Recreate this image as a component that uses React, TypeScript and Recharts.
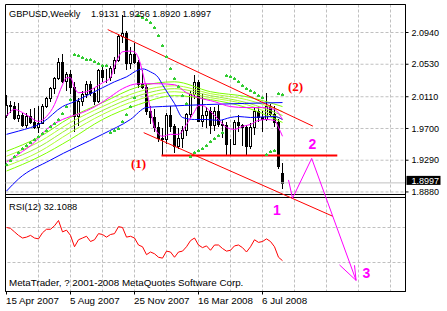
import React from 'react'
import {
  ComposedChart,
  Bar,
  Line,
  XAxis,
  YAxis,
  CartesianGrid,
  ReferenceLine,
  ReferenceArea,
  ReferenceDot,
} from 'recharts'

const FONT = "'Liberation Sans', Arial, sans-serif"

// weekly bars, bar 0 = week of 15 Apr 2007
const openP = [
  1.987, 2.0005, 1.9985, 1.983, 1.988, 1.974, 1.986, 1.979, 1.972, 1.977,
  1.999, 2.009, 2.022, 2.035, 2.056, 2.031, 2.041, 2.024, 1.986, 2.006,
  2.015, 2.028, 2.016, 2.005, 2.045, 2.036, 2.037, 2.048, 2.058, 2.089,
  2.093, 2.054, 2.066, 2.056, 2.027, 2.024, 1.992, 1.985, 1.972, 1.958,
  1.957, 1.987, 1.973, 1.947, 1.958, 1.968, 1.989, 2.014, 2.03, 1.98,
  1.988, 1.993, 1.975, 1.9925, 1.976, 1.9745, 1.9505, 1.95, 1.978, 1.974,
  1.972, 1.947, 1.972, 1.992, 1.985, 1.9825, 1.999, 1.9885, 1.979, 1.9131,
]
const highP = [
  2.0133, 2.006, 2.004, 2.003, 1.99, 1.99, 1.995, 1.997, 1.999, 2.001,
  2.011, 2.024, 2.037, 2.0607, 2.0658, 2.0435, 2.046, 2.03, 2.009, 2.019,
  2.031, 2.031, 2.022, 2.047, 2.05, 2.047, 2.051, 2.062, 2.092, 2.1161,
  2.096, 2.075, 2.081, 2.059, 2.046, 2.028, 1.999, 1.995, 1.978, 1.97,
  1.99, 1.999, 1.976, 1.97, 1.973, 1.99, 2.018, 2.0397, 2.032, 2.014,
  1.998, 1.998, 1.998, 2.0, 1.981, 1.978, 1.957, 1.981, 1.987, 1.976,
  1.975, 1.977, 1.996, 1.999, 1.992, 2.0157, 2.002, 1.999, 1.982, 1.9256,
]
const lowP = [
  1.984, 1.99, 1.981, 1.978, 1.972, 1.971, 1.976, 1.969, 1.9646, 1.976,
  1.996, 2.004, 2.015, 2.033, 2.0287, 2.018, 2.015, 1.9655, 1.973, 1.999,
  2.01, 2.012, 2.0, 2.003, 2.03, 2.029, 2.031, 2.04, 2.056, 2.08,
  2.046, 2.047, 2.053, 2.022, 2.021, 1.988, 1.976, 1.966, 1.953, 1.934,
  1.95, 1.965, 1.938, 1.944, 1.945, 1.96, 1.983, 2.008, 1.978, 1.972,
  1.971, 1.963, 1.967, 1.972, 1.958, 1.936, 1.934, 1.949, 1.966, 1.948,
  1.9355, 1.944, 1.962, 1.978, 1.966, 1.98, 1.986, 1.972, 1.917, 1.892,
]
const closeP = [
  2.0005, 1.9985, 1.983, 1.988, 1.974, 1.986, 1.979, 1.972, 1.977, 1.999,
  2.009, 2.022, 2.035, 2.056, 2.031, 2.041, 2.024, 1.986, 2.006, 2.015,
  2.028, 2.016, 2.005, 2.045, 2.036, 2.037, 2.048, 2.058, 2.089, 2.093,
  2.054, 2.066, 2.056, 2.027, 2.024, 1.992, 1.985, 1.972, 1.958, 1.957,
  1.987, 1.973, 1.947, 1.958, 1.968, 1.989, 2.014, 2.03, 1.98, 1.988,
  1.993, 1.975, 1.9925, 1.976, 1.9745, 1.9505, 1.95, 1.978, 1.974, 1.972,
  1.947, 1.972, 1.992, 1.985, 1.9825, 1.999, 1.9885, 1.979, 1.921, 1.8997,
]

// Parabolic SAR, one dot per bar
const sarP = [
  1.9241, 1.9292, 1.9343, 1.9395, 1.9446, 1.9484, 1.9523, 1.9561, 1.9599, 1.9638,
  1.9676, 1.9727, 1.9766, 1.9817, 1.9894, 1.9996, 2.0086, 2.0658, 2.0645, 2.0627,
  2.0602, 2.0594, 2.0568, 2.0551, 2.0525, 2.0517, 1.9655, 1.9675, 1.971, 1.9795,
  1.9889, 1.9989, 2.0102, 2.1161, 2.1136, 2.111, 2.1072, 2.1008, 2.0905, 2.0777,
  2.0636, 2.0483, 2.0355, 2.0252, 2.0137, 2.0034, 1.934, 1.9394, 1.942, 1.9445,
  1.9483, 1.9535, 1.9573, 1.9612, 1.965, 2.0397, 2.0384, 2.0346, 2.0311, 2.0265,
  2.0223, 2.0201, 2.0166, 2.0137, 2.0107, 1.9375, 1.9407, 1.942, 2.0157, 2.015,
]

// RSI(12)
const rsi12 = [
  70, 69, 65, 61, 58, 59, 61, 58, 57, 64, 68, 68, 72, 78, 65, 67, 61, 48, 56, 58,
  60, 54, 56, 63, 62, 59, 62, 63, 71, 70, 59, 60, 58, 50, 48, 39, 42, 40, 36, 35,
  43, 42, 36, 42, 43, 48, 55, 58, 50, 47, 49, 44, 50, 50, 46, 43, 44, 49, 50, 47,
  42, 48, 56, 53, 54, 57, 54, 48, 36, 32.1088,
]

// moving averages at sample bars
const blueSlowBars = [0, 3, 11, 24, 31, 35, 39, 50, 69]
const blueSlow = [1.8891, 1.9048, 1.9292, 1.9625, 1.9817, 1.9971, 1.9984, 2.0009, 2.0035]

const blueMidBars = [0, 3, 9, 14, 17, 20, 24, 27, 30, 33, 34, 36, 38, 39, 42, 44, 47, 50, 53, 56, 58, 61, 67, 69]
const blueMid = [
  1.9624, 1.9666, 1.9778, 1.9983, 2.0047, 2.0124, 2.0226, 2.0303, 2.0367, 2.0457, 2.047, 2.0431,
  2.0355, 2.0265, 2.0022, 1.9842, 1.9816, 1.9816, 1.9804, 1.9842, 1.9855, 1.9842, 1.9855, 1.9816,
]

const pinkFastBars = [
  0, 2, 4, 6, 8, 10, 12, 13, 14, 15, 16, 17, 18, 20, 22, 24, 26, 27, 28, 29, 31, 32, 33,
  34, 35, 36, 37, 39, 41, 43, 45, 47, 48, 49, 51, 53, 55, 57, 59, 61, 63, 65, 67, 68, 69,
]
const pinkFast = [
  1.9859, 1.9945, 1.9906, 1.9842, 1.9791, 1.9855, 2.0009, 2.0137, 2.0265, 2.0355, 2.0355, 2.0226,
  2.0162, 2.0175, 2.0226, 2.029, 2.0355, 2.0508, 2.0624, 2.0691, 2.07, 2.0688, 2.0611, 2.0431,
  2.0201, 1.9945, 1.9714, 1.9599, 1.9624, 1.9624, 1.9752, 1.9919, 1.9996, 1.9996, 1.9919, 1.9816,
  1.9714, 1.9688, 1.9727, 1.9752, 1.9804, 1.9816, 1.9804, 1.9714, 1.9599,
]

const pinkSlowBars = [0, 3, 7, 10, 14, 16, 19, 23, 26, 29, 33, 38, 42, 45, 48, 52, 56, 60, 64, 67, 69]
const pinkSlow = [
  1.9266, 1.9368, 1.9522, 1.9688, 1.9816, 1.9855, 1.9906, 2.0009, 2.0111, 2.0214, 2.0278,
  2.0278, 2.0265, 2.0162, 2.0098, 2.0047, 1.9983, 1.997, 1.997, 1.9945, 1.9816,
]

const ribbonBars = [0, 8, 16, 24, 33, 42, 51, 60, 69]
const ribbon1 = [1.9406, 1.9585, 1.9842, 2.0034, 2.0239, 2.0303, 2.0175, 2.0111, 1.9983]
const ribbon2 = [1.9342, 1.9522, 1.9778, 1.9983, 2.0175, 2.0252, 2.015, 2.0073, 1.9919]
const ribbon3 = [1.9278, 1.9458, 1.9714, 1.9932, 2.0124, 2.0214, 2.0124, 2.0034, 1.9868]
const ribbon4 = [1.9214, 1.9394, 1.965, 1.9881, 2.0073, 2.0175, 2.0098, 2.0009, 1.9816]
const ribbon5 = [1.915, 1.933, 1.956, 1.9816, 2.0009, 2.0124, 2.0073, 1.997, 1.9778]

// axes
const priceTicks = [1.888, 1.929, 1.97, 2.011, 2.053, 2.094]
const rsiTicks = [0, 30, 70, 100]
const rsiLevels = [30, 70]
const gridBars = [8, 16, 24, 32, 40, 48, 56, 64, 72, 80, 88, 96]
const dateBars = [0, 16, 32, 48, 64]
const dateLabels = ['15 Apr 2007', '5 Aug 2007', '25 Nov 2007', '16 Mar 2008', '6 Jul 2008']

// hand drawn analysis
const upperChannel = [{ x: 25.3, y: 2.0978 }, { x: 76.6, y: 1.973 }]
const lowerChannel = [{ x: 34.3, y: 1.9646 }, { x: 81.6, y: 1.8565 }]
const neckline = [{ x: 38.75, y: 1.935 }, { x: 82.7, y: 1.935 }]
const zigBars = [70.5, 71.5, 76.3, 87.4]
const zigPrices = [1.9035, 1.8798, 1.9313, 1.7737]
const barbBars = [83.25, 87]
const barbPrices = [1.7937, 1.7933]
const redMarks = [
  { x: 33, y: 1.9254, text: '(1)' },
  { x: 72.25, y: 2.024, text: '(2)' },
]
const pinkMarks = [
  { x: 67.6, y: 1.864, text: '1' },
  { x: 76.5, y: 1.9504, text: '2' },
  { x: 90, y: 1.7827, text: '3' },
]

const priceDomain = [1.75937, 2.13018]
const rsiDomain = [-3.14, 324.86]
const mainBottom = 1.8847
const rsiTop = 104.29
const gapTop = 107.71

const candles = openP.map((o, i) => ({ i, o, h: highP[i], l: lowP[i], c: closeP[i], range: [lowP[i], highP[i]] }))
const series = (xs: number[], vs: number[]) => xs.map((i, k) => ({ i, v: vs[k] }))
const bars = openP.map((_, i) => i)
const last = candles[candles.length - 1]

function Candle(props: any) {
  const { x, y, width, height, payload } = props
  const { o, h, l, c } = payload
  const k = height / (h - l || 1e-9)
  const cx = Math.floor(x + width / 2)
  const yo = y + (h - o) * k
  const yc = y + (h - c) * k
  const top = Math.round(Math.min(yo, yc))
  const bot = Math.round(Math.max(yo, yc))
  return (
    <g>
      <line x1={cx + 0.5} x2={cx + 0.5} y1={Math.round(y)} y2={Math.round(y + height)} stroke="#000" />
      <rect x={cx - 0.5} y={top + 0.5} width={2} height={Math.max(bot - top, 0)} fill={c >= o ? '#fff' : '#000'} stroke="#000" />
    </g>
  )
}

function SarDot(props: any) {
  const { cx, cy } = props
  if (cx == null || cy == null) return null
  const x = Math.floor(cx)
  const y = Math.round(cy)
  return <path d={`M${x - 1},${y + 2}h3v-2h-1v-1h-1v1h-1z`} fill="#33cc33" />
}

function PriceTag(props: any) {
  const vb = props.viewBox || {}
  const x = vb.x + vb.width
  const y = vb.y
  return (
    <g>
      <rect x={x + 1} y={y - 7} width={34} height={9} fill="#000" />
      <text x={x + 6} y={y + 1} fill="#fff" fontSize={9} fontFamily={FONT}>
        {last.c.toFixed(4)}
      </text>
    </g>
  )
}

function DateTick(props: any) {
  const { x, y, payload } = props
  const k = dateBars.indexOf(payload.value)
  return (
    <text x={x - 0.5} y={y + 7} fontSize={9.8} fontFamily={FONT} fill="#000">
      {dateLabels[k]}
    </text>
  )
}

function RsiTick(props: any) {
  const { x, y, payload } = props
  const shift = payload.value === 0 ? -5 : payload.value === 100 ? 2 : -1
  return (
    <text x={x} y={y + shift + 3} fontSize={9} fontFamily={FONT} fill="#000">
      {payload.value}
    </text>
  )
}

export default function App() {
  const zig = zigBars.slice(1).map((b, k) => [
    { x: zigBars[k], y: zigPrices[k] },
    { x: b, y: zigPrices[k + 1] },
  ])
  const tip = { x: zigBars[3], y: zigPrices[3] }
  const ribbons = [ribbon1, ribbon2, ribbon3, ribbon4, ribbon5]
  const ribbonColors = ['#7cfc00', '#adff2f', '#9aef30', '#adff2f', '#80ff00']

  return (
    <div style={{ position: 'absolute', left: 0, top: 0, width: 447, height: 311, background: '#fff' }}>
      <ComposedChart width={447} height={311} data={candles} margin={{ top: 4.5, right: 0, bottom: 0, left: 5.5 }}>
        <XAxis
          type="number"
          dataKey="i"
          domain={[-0.25, 99.75]}
          allowDataOverflow
          ticks={dateBars}
          interval={0}
          height={19.5}
          tickSize={3}
          tick={<DateTick />}
          axisLine={{ stroke: '#000' }}
          tickLine={{ stroke: '#000' }}
        />
        <YAxis
          yAxisId="rsi"
          orientation="right"
          width={0}
          domain={rsiDomain}
          allowDataOverflow
          ticks={rsiTicks}
          interval={0}
          tickSize={3}
          tickMargin={3}
          tick={<RsiTick />}
          axisLine={{ stroke: '#000' }}
          tickLine={{ stroke: '#000' }}
        />
        <YAxis
          yAxisId="price"
          orientation="right"
          width={41.5}
          domain={priceDomain}
          allowDataOverflow
          ticks={priceTicks}
          interval={0}
          tickSize={3}
          tickMargin={3}
          tickFormatter={(v: number) => v.toFixed(4)}
          tick={{ fill: '#000', fontSize: 9, fontFamily: FONT }}
          axisLine={{ stroke: '#000' }}
          tickLine={{ stroke: '#000' }}
        />
        <CartesianGrid
          yAxisId="price"
          stroke="#c0c0c0"
          strokeDasharray="3 2"
          horizontalValues={priceTicks}
          verticalValues={gridBars}
        />
        {rsiLevels.map((lv) => (
          <ReferenceLine key={lv} yAxisId="rsi" y={lv} stroke="#c0c0c0" strokeDasharray="3 2" />
        ))}
        <ReferenceArea yAxisId="rsi" y1={rsiTop} y2={gapTop} fill="#fff" fillOpacity={1} stroke="none" ifOverflow="visible" />
        <ReferenceArea yAxisId="price" y1={mainBottom} fill="none" stroke="#000" ifOverflow="visible" />
        <ReferenceArea yAxisId="rsi" y2={rsiTop} fill="none" stroke="#000" ifOverflow="visible" />
        <ReferenceLine yAxisId="price" y={last.c} stroke="#c0c0c0" label={<PriceTag />} ifOverflow="visible" />

        <Bar yAxisId="price" dataKey="range" barSize={3} shape={(p: any) => <Candle {...p} />} isAnimationActive={false} />

        {ribbons.map((r, k) => (
          <Line
            key={k}
            yAxisId="price"
            data={series(ribbonBars, r)}
            dataKey="v"
            type="monotone"
            stroke={ribbonColors[k]}
            strokeWidth={1}
            dot={false}
            activeDot={false}
            isAnimationActive={false}
          />
        ))}
        <Line yAxisId="price" data={series(blueSlowBars, blueSlow)} dataKey="v" type="monotone" stroke="#0000ff" dot={false} activeDot={false} isAnimationActive={false} />
        <Line yAxisId="price" data={series(blueMidBars, blueMid)} dataKey="v" type="monotone" stroke="#0000ff" dot={false} activeDot={false} isAnimationActive={false} />
        <Line yAxisId="price" data={series(pinkSlowBars, pinkSlow)} dataKey="v" type="monotone" stroke="#ff00ff" dot={false} activeDot={false} isAnimationActive={false} />
        <Line yAxisId="price" data={series(pinkFastBars, pinkFast)} dataKey="v" type="monotone" stroke="#ff00ff" dot={false} activeDot={false} isAnimationActive={false} />
        <Line
          yAxisId="price"
          data={series(bars, sarP)}
          dataKey="v"
          stroke="none"
          dot={(p: any) => <SarDot key={p.index} {...p} />}
          activeDot={false}
          isAnimationActive={false}
        />

        <Line yAxisId="rsi" data={series(bars, rsi12)} dataKey="v" type="linear" stroke="#ff0000" dot={false} activeDot={false} isAnimationActive={false} />

        <ReferenceLine yAxisId="price" segment={upperChannel} stroke="#ff0000" ifOverflow="visible" />
        <ReferenceLine yAxisId="price" segment={lowerChannel} stroke="#ff0000" ifOverflow="visible" />
        <ReferenceLine yAxisId="price" segment={neckline} stroke="#ff0000" strokeWidth={2} ifOverflow="visible" />
        {zig.map((seg, k) => (
          <ReferenceLine key={'z' + k} yAxisId="price" segment={seg} stroke="#ff00ff" ifOverflow="visible" />
        ))}
        {barbBars.map((b, k) => (
          <ReferenceLine key={'b' + k} yAxisId="price" segment={[{ x: b, y: barbPrices[k] }, tip]} stroke="#ff00ff" ifOverflow="visible" />
        ))}
        {redMarks.map((m) => (
          <ReferenceDot
            key={m.text}
            yAxisId="price"
            x={m.x}
            y={m.y}
            r={0}
            fill="none"
            stroke="none"
            ifOverflow="visible"
            label={{ value: m.text, position: 'center', fill: '#ff0000', fontSize: 13, fontWeight: 700, fontFamily: "'Liberation Serif', serif" }}
          />
        ))}
        {pinkMarks.map((m) => (
          <ReferenceDot
            key={m.text}
            yAxisId="price"
            x={m.x}
            y={m.y}
            r={0}
            fill="none"
            stroke="none"
            ifOverflow="visible"
            label={{ value: m.text, position: 'center', fill: '#ff00ff', fontSize: 14, fontWeight: 700, fontFamily: FONT }}
          />
        ))}
      </ComposedChart>
      <svg width={447} height={311} style={{ position: 'absolute', left: 0, top: 0, pointerEvents: 'none' }}>
        <text x={9} y={17} fontSize={9.2} fontFamily={FONT} fill="#000">GBPUSD,Weekly</text>
        <text x={91} y={17} fontSize={9.2} fontFamily={FONT} fill="#000">
          {[last.o, last.h, last.l, last.c].map((v) => v.toFixed(4)).join(' ')}
        </text>
        <text x={9} y={210} fontSize={9.3} fontFamily={FONT} fill="#000">
          RSI(12) {rsi12[rsi12.length - 1].toFixed(4)}
        </text>
        <text x={9} y={285.5} fontSize={9.8} fontFamily={FONT} fill="#000">
          MetaTrader, ? 2001-2008 MetaQuotes Software Corp.
        </text>
      </svg>
    </div>
  )
}
